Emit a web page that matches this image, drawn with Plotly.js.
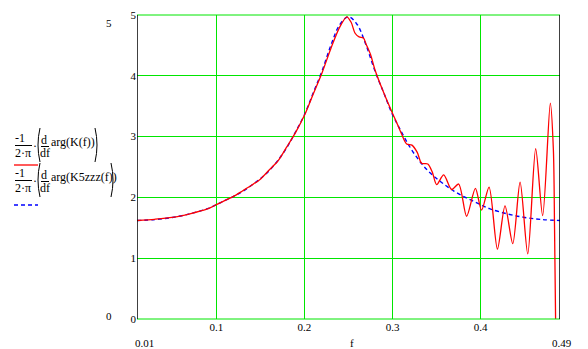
<!DOCTYPE html>
<html>
<head>
<meta charset="utf-8">
<script src="https://cdn.plot.ly/plotly-3.0.1.min.js"></script>
<style>
  html, body { margin: 0; padding: 0; background: #fff; }
  #chart { width: 588px; height: 349px; }
</style>
</head>
<body>
<div id="chart"></div>
<script>
// ---- data ----
const blueF = [0.01, 0.03, 0.05, 0.07, 0.09, 0.10, 0.11, 0.12, 0.13, 0.14, 0.15, 0.16, 0.17, 0.18, 0.19, 0.20,
               0.21, 0.22, 0.23, 0.24, 0.25, 0.26, 0.27, 0.28, 0.29, 0.30, 0.31, 0.32, 0.33, 0.34, 0.35,
               0.36, 0.37, 0.38, 0.39, 0.40, 0.41, 0.43, 0.45, 0.47, 0.49];
const blueVals = [1.62, 1.635, 1.67, 1.73, 1.815, 1.88, 1.95, 2.02, 2.10, 2.20, 2.31, 2.44, 2.61, 2.82, 3.08, 3.36,
                  3.72, 4.08, 4.50, 4.84, 4.97, 4.84, 4.50, 4.08, 3.72, 3.36, 3.08, 2.82, 2.61, 2.44, 2.31,
                  2.20, 2.10, 2.02, 1.95, 1.88, 1.815, 1.73, 1.67, 1.635, 1.62];

const redF = [0.01, 0.03, 0.05, 0.07, 0.09, 0.10, 0.11, 0.12, 0.13, 0.14, 0.15, 0.16, 0.17, 0.18, 0.19, 0.20,
              0.21, 0.22, 0.23, 0.24, 0.248, 0.253, 0.2575, 0.262, 0.267, 0.270, 0.275, 0.28, 0.29, 0.30,
              0.305, 0.31, 0.316, 0.322, 0.328, 0.333, 0.340, 0.345, 0.350, 0.358, 0.367, 0.375, 0.384,
              0.394, 0.401, 0.4095, 0.419, 0.4276, 0.4364, 0.4447, 0.4534, 0.4624, 0.4703, 0.479,
              0.4825, 0.4838, 0.485];
const redVals = [1.62, 1.64, 1.67, 1.73, 1.81, 1.88, 1.95, 2.02, 2.11, 2.20, 2.30, 2.45, 2.60, 2.83, 3.07, 3.35,
                 3.70, 4.05, 4.45, 4.80, 4.97, 4.88, 4.70, 4.64, 4.62, 4.52, 4.35, 4.10, 3.72, 3.38,
                 3.22, 3.05, 2.88, 2.86, 2.74, 2.56, 2.55, 2.42, 2.21, 2.37, 2.13, 2.22, 1.69,
                 2.15, 1.79, 2.17, 1.15, 1.86, 1.24, 2.25, 1.07, 2.80, 1.70, 3.55,
                 2.78, 1.50, 0.0];

const xTickVals = [0.1, 0.2, 0.3, 0.4];
const xTickText = ["0.1", "0.2", "0.3", "0.4"];
const yTickVals = [0, 1, 2, 3, 4, 5];
const yTickText = ["0", "1", "2", "3", "4", "5"];
const xLimitLabels = ["0.01", "f", "0.49"];
const yLimitLabels = ["5", "0"];
const legendArgs = ["arg(K(f))", "arg(K5zzz(f))"];

// ---- layout helpers (pixel -> paper) ----
const W = 588, H = 349;
const M = { l: 137, r: 28, t: 15, b: 30 };
const PW = W - M.l - M.r, PH = H - M.t - M.b;
const px = x => (x - M.l) / PW;
const py = y => (H - M.b - y) / PH;
const FONT = "Liberation Serif";
const GREEN = "#00e600";

const annotations = [];
function ann(text, x, y, xanchor, size) {
  annotations.push({
    text: text, xref: "paper", yref: "paper", x: px(x), y: py(y),
    xanchor: xanchor || "center", yanchor: "middle", showarrow: false,
    font: { family: FONT, size: size || 11, color: "#000" }
  });
}
const shapes = [];
function seg(x0, y0, x1, y1, color, dash, width) {
  shapes.push({ type: "line", xref: "paper", yref: "paper",
    x0: px(x0), y0: py(y0), x1: px(x1), y1: py(y1),
    line: { color: color, width: width || 1, dash: dash || "solid" } });
}
function paren(xEdge, xMid, yTop, yBot) {
  const ym = (yTop + yBot) / 2;
  shapes.push({ type: "path", xref: "paper", yref: "paper",
    path: "M " + px(xEdge) + "," + py(yTop) + " Q " + px(xMid) + "," + py(ym) + " " + px(xEdge) + "," + py(yBot),
    line: { color: "#000", width: 1 } });
}

// axis limit labels
ann(xLimitLabels[0], 133, 343, "left");
ann(xLimitLabels[1], 352, 343, "center");
ann(xLimitLabels[2], 562, 343, "center");
ann(yLimitLabels[0], 109, 23, "center");
ann(yLimitLabels[1], 109, 316, "center");

// legend (Mathcad-style expressions)
[0, 35].forEach((dy, i) => {
  ann("-1", 20, 138 + dy, "center", 12);
  seg(15, 145.5 + dy, 32, 145.5 + dy, "#000");
  ann("2·π", 23, 153 + dy, "center", 12);
  ann("·", 35, 146 + dy, "center", 12);
  paren(40, 36, 128 + dy, 162 + dy);
  ann("d", 44, 140 + dy, "center", 12);
  seg(41, 146.5 + dy, 49, 146.5 + dy, "#000");
  ann("df", 45, 153 + dy, "center", 12);
  ann(legendArgs[i], 49, 142 + dy, "left", 12);
  const rx = i === 0 ? 95 : 111;
  paren(rx, rx + 4, 128 + dy, 162 + dy);
});
seg(14, 165, 38, 165, "#ff0000", "solid", 1.3);
seg(14, 205, 38, 205, "#0000ff", "4px,3px", 1.3);

// frame: green top/bottom, black left/right
seg(M.l, M.t, W - M.r, M.t, GREEN);
seg(M.l, H - M.b, W - M.r, H - M.b, GREEN);

const traces = [
  { x: blueF, y: blueVals, type: "scatter", mode: "lines",
    line: { color: "#0000ff", width: 1.4, dash: "4px,3px", shape: "spline", smoothing: 1 },
    hoverinfo: "skip" },
  { x: redF, y: redVals, type: "scatter", mode: "lines",
    line: { color: "#ff0000", width: 1.3, shape: "spline", smoothing: 0.8 },
    hoverinfo: "skip" }
];

const layout = {
  width: W, height: H,
  margin: M,
  paper_bgcolor: "#fff", plot_bgcolor: "#fff",
  showlegend: false,
  font: { family: FONT, size: 11, color: "#000" },
  xaxis: {
    range: [0.01, 0.49], tickvals: xTickVals, ticktext: xTickText,
    showgrid: true, gridcolor: GREEN, gridwidth: 1, zeroline: false, showline: false,
    ticks: "", tickfont: { family: FONT, size: 11, color: "#000" }
  },
  yaxis: {
    range: [0, 5], tickvals: yTickVals, ticktext: yTickText,
    showgrid: true, gridcolor: GREEN, gridwidth: 1, zeroline: false, showline: false,
    ticks: "", tickfont: { family: FONT, size: 11, color: "#000" }
  },
  shapes: shapes.concat([
    { type: "line", xref: "x", yref: "paper", x0: 0.01, x1: 0.01, y0: 0, y1: 1, line: { color: "#000", width: 1.5 }, layer: "above" },
    { type: "line", xref: "x", yref: "paper", x0: 0.49, x1: 0.49, y0: 0, y1: 1, line: { color: "#000", width: 1.5 }, layer: "above" }
  ]),
  annotations: annotations
};

Plotly.newPlot("chart", traces, layout, { staticPlot: true, displayModeBar: false });
</script>
</body>
</html>
